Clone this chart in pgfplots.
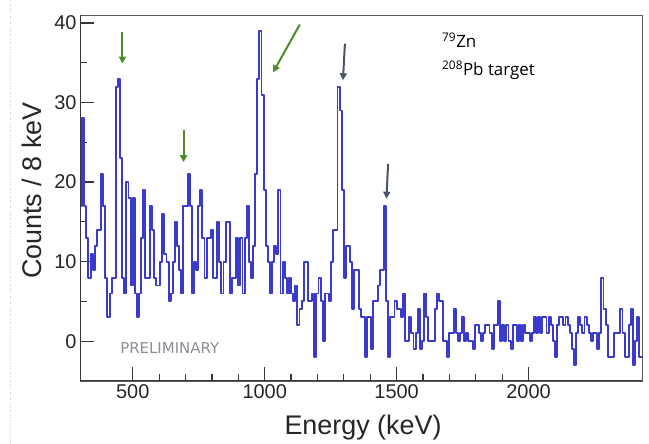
\documentclass[border=0pt]{standalone}
\usepackage{fontspec}
\setmainfont{Liberation Sans}
\newfontfamily\annfont{Open Sans}
\newfontfamily\prelfont{DejaVu Sans}
\usepackage{pgfplots}
\pgfplotsset{compat=1.18}
\usepackage{pgfplotstable}
\usetikzlibrary{arrows.meta}

\definecolor{histblue}{RGB}{58,58,204}
\definecolor{arrgreen}{RGB}{78,140,42}
\definecolor{arrslate}{RGB}{72,86,100}
\definecolor{framedark}{RGB}{55,55,55}
\definecolor{prelgray}{RGB}{140,140,150}

% gamma spectrum, 8 keV bins (left bin edge, counts)
\pgfplotstableread{
E C
300 17
308 28
316 17
324 13
332 8
340 11
348 9
356 12
364 14
372 14
380 21
388 17
396 8
404 3
412 6
420 8
428 8
436 32
444 33
452 23
460 8
468 6
476 20
484 18
492 7
500 18
508 6
516 3
524 6
532 13
540 19
548 8
556 8
564 17
572 14
580 8
588 7
596 7
604 10
612 16
620 11
628 10
636 5
644 6
652 10
660 15
668 12
676 9
684 6
692 17
700 17
708 21
716 17
724 6
732 10
740 9
748 17
756 19
764 13
772 8
780 13
788 13
796 14
804 8
812 8
820 15
828 10
836 6
844 10
852 15
860 15
868 6
876 8
884 8
892 13
900 7
908 13
916 6
924 13
932 17
940 10
948 8
956 12
964 21
972 33
980 39
988 31
996 19
1004 12
1012 10
1020 6
1028 10
1036 12
1044 11
1052 19
1060 6
1068 10
1076 8
1084 6
1092 8
1100 6
1108 5
1116 7
1124 2
1132 4
1140 5
1148 10
1156 10
1164 5
1172 5
1180 6
1188 -2
1196 6
1204 8
1212 5
1220 0
1228 6
1236 6
1244 5
1252 10
1260 14
1268 14
1276 32
1284 29
1292 19
1300 8
1308 12
1316 12
1324 10
1332 4
1340 9
1348 9
1356 4
1364 3
1372 3
1380 -2
1388 3
1396 3
1404 -1
1412 5
1420 5
1428 7
1436 9
1444 9
1452 17
1460 5
1468 -2
1476 3
1484 3
1492 5
1500 4
1508 4
1516 3
1524 6
1532 0
1540 0
1548 3
1556 1
1564 -1
1572 1
1580 4
1588 -1
1596 0
1604 6
1612 3
1620 0
1628 0
1636 0
1644 4
1652 6
1660 5
1668 5
1676 0
1684 0
1692 -2
1700 1
1708 1
1716 4
1724 1
1732 0
1740 1
1748 3
1756 0
1764 1
1772 0
1780 0
1788 -1
1796 2
1804 2
1812 1
1820 0
1828 1
1836 2
1844 2
1852 1
1860 -1
1868 2
1876 2
1884 5
1892 0
1900 2
1908 0
1916 2
1924 0
1932 -1
1940 2
1948 2
1956 0
1964 2
1972 0
1980 2
1988 1
1996 1
2004 0
2012 1
2020 3
2028 1
2036 3
2044 1
2052 3
2060 3
2068 1
2076 3
2084 2
2092 0
2100 -2
2108 2
2116 3
2124 3
2132 2
2140 3
2148 2
2156 1
2164 -1
2172 -3
2180 1
2188 3
2196 2
2204 1
2212 3
2220 2
2228 1
2236 0
2244 1
2252 1
2260 -1
2268 1
2276 8
2284 4
2292 2
2300 -2
2308 -2
2316 -2
2324 1
2332 1
2340 1
2348 4
2356 1
2364 -2
2372 -2
2380 2
2388 4
2396 -3
2404 0
2412 3
2420 -2
2428 -2
2436 -2
}\spectrum

\begin{document}
\begin{tikzpicture}
\useasboundingbox (0,0) rectangle (649bp,444bp);
\draw[gray!40, dotted, line width=0.6bp] (10.5bp,0) -- (10.5bp,444bp);
\begin{axis}[
  at={(80bp,63bp)}, anchor=south west,
  scale only axis, width=562bp, height=366bp,
  xmin=300, xmax=2430, ymin=-5, ymax=41,
  xtick={500,1000,1500,2000}, minor x tick num=4,
  ytick={0,10,20,30,40}, minor y tick num=1,
  tick pos=left, tick align=inside,
  major tick length=14bp, minor tick length=7bp,
  every tick/.style={framedark, line width=1.2bp},
  axis line style={draw=gray!70!black, line width=0.9bp},
  /pgf/number format/assume math mode=true,
  /pgf/number format/1000 sep={},
  tick label style={font=\fontsize{20}{24}\selectfont, text=black!85},
  xlabel={Energy (keV)}, ylabel={Counts / 8 keV},
  every axis x label/.style={at={(axis description cs:0.5036,-0.126)}, anchor=center,
    font=\fontsize{27}{32}\selectfont, text=black!85},
  every axis y label/.style={at={(axis description cs:-0.0854,0.52)}, anchor=center, rotate=90,
    font=\fontsize{27}{32}\selectfont, text=black!85},
]
\addplot[const plot mark left, draw=histblue, line width=1.9bp, line join=round] table[x=E, y=C] {\spectrum};

\draw[framedark, line width=1.6bp] (rel axis cs:0,1) -- (rel axis cs:0,0) -- (rel axis cs:1,0);

% peak markers
\draw[-{Triangle[length=7bp,width=7bp]}, arrgreen, line width=2bp] (axis cs:460.7,38.9) -- (axis cs:460.7,34.9);
\draw[-{Triangle[length=7bp,width=7bp]}, arrgreen, line width=2bp] (axis cs:692.5,26.5) -- (axis cs:692.5,22.5);
\draw[-{Triangle[length=7bp,width=7bp]}, arrgreen, line width=2bp] (axis cs:1133,39.8) -- (axis cs:1032,33.8);
\draw[-{Triangle[length=7bp,width=7bp]}, arrslate, line width=2bp] (axis cs:1304,37.4) -- (axis cs:1296.6,32.8);
\draw[-{Triangle[length=7bp,width=7bp]}, arrslate, line width=2bp] (axis cs:1467.6,22.3) -- (axis cs:1461.5,17.9);

\node[anchor=base west, font=\annfont\fontsize{17}{20}\selectfont, inner sep=0pt] at (axis cs:1672,36.9) {\textsuperscript{79}Zn};
\node[anchor=base west, font=\annfont\fontsize{17}{20}\selectfont, inner sep=0pt] at (axis cs:1672,33.4) {\textsuperscript{208}Pb target};
\node[anchor=base west, font=\prelfont\fontsize{15}{18}\selectfont, text=prelgray, inner sep=0pt] at (axis cs:452,-1.55) {PRELIMINARY};
\end{axis}
\end{tikzpicture}
\end{document}
